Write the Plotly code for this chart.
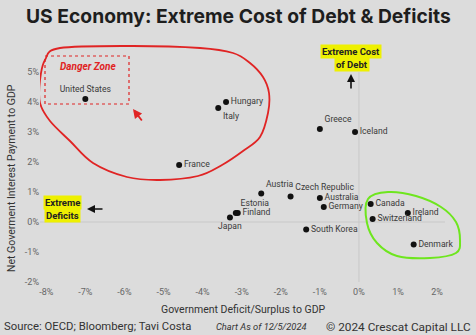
import plotly.graph_objects as go

# Country data: deficit/surplus and net interest payment, both as % of GDP
countries = ["United States", "Hungary", "Italy", "France", "Greece", "Iceland",
             "Austria", "Czech Republic", "Australia", "Germany", "Estonia", "Finland",
             "Japan", "South Korea", "Canada", "Switzerland", "Ireland", "Denmark"]
deficit_pct = [-7.0, -3.4, -3.6, -4.6, -1.0, -0.1,
               -2.5, -1.75, -1.0, -0.9, -3.15, -3.1,
               -3.3, -1.35, 0.3, 0.35, 1.25, 1.4]
interest_pct = [4.1, 4.0, 3.8, 1.9, 3.1, 3.0,
                0.95, 0.85, 0.8, 0.5, 0.3, 0.3,
                0.15, -0.25, 0.6, 0.1, 0.3, -0.75]
label_pos = ["top center", "middle right", "bottom right", "middle right", "top right", "middle right",
             "top right", "top right", "middle right", "middle right", "top right", "middle right",
             "bottom center", "middle right", "middle right", "middle right", "middle right", "middle right"]

x_ticks = [-8, -7, -6, -5, -4, -3, -2, -1, 0, 1, 2]
y_ticks = [-2, -1, 0, 1, 2, 3, 4, 5]

# Figure geometry
W, H = 476, 335
L, R, T, B = 40, 8, 42, 50
PW, PH = W - L - R, H - T - B
XR = [-8.16, 2.79]
YR = [-2.1, 6.0]

BG = "#dcdcdc"
RED = "#e02424"
GREEN = "#6ee61e"
YELLOW = "#eef000"


def dx(px):
    return XR[0] + (px - L) / PW * (XR[1] - XR[0])


def dy(py):
    return YR[0] + (T + PH - py) / PH * (YR[1] - YR[0])


def paper_x(px):
    return (px - L) / PW


def paper_y(py):
    return (T + PH - py) / PH


def smooth_loop(pts):
    """Closed Catmull-Rom curve through pixel points, as an SVG path in data units."""
    n = len(pts)
    path = f"M {dx(pts[0][0])},{dy(pts[0][1])}"
    for i in range(n):
        p0 = pts[(i - 1) % n]
        p1 = pts[i]
        p2 = pts[(i + 1) % n]
        p3 = pts[(i + 2) % n]
        c1 = (p1[0] + (p2[0] - p0[0]) / 6, p1[1] + (p2[1] - p0[1]) / 6)
        c2 = (p2[0] - (p3[0] - p1[0]) / 6, p2[1] - (p3[1] - p1[1]) / 6)
        path += (f" C {dx(c1[0])},{dy(c1[1])} {dx(c2[0])},{dy(c2[1])}"
                 f" {dx(p2[0])},{dy(p2[1])}")
    return path + " Z"


fig = go.Figure()
fig.add_trace(go.Scatter(
    x=deficit_pct, y=interest_pct, mode="markers+text",
    text=countries, textposition=label_pos,
    marker=dict(color="#111111", size=6),
    textfont=dict(family="Roboto", size=8.6, color="#3a3a3a"),
    cliponaxis=False, hoverinfo="skip", showlegend=False,
))

red_loop = [(45, 60), (60, 48), (133, 46), (200, 48), (233, 53), (250, 63), (263, 77),
            (269, 93), (268, 113), (260, 137), (243, 151), (222, 165), (198, 176),
            (160, 180), (127, 177), (93, 163), (70, 141), (50, 121), (40, 103), (40, 80)]
green_loop = [(368, 199), (388, 192), (416, 196), (441, 207), (456, 222), (460, 240),
              (456, 253), (430, 258), (397, 256), (377, 243), (367, 223)]

shapes = [
    # zero reference lines
    dict(type="line", xref="x", yref="y", x0=0, x1=0, y0=-2, y1=5,
         line=dict(color="#c8c8c8", width=1), layer="below"),
    dict(type="line", xref="x", yref="y", x0=-8.2, x1=2.2, y0=0, y1=0,
         line=dict(color="#c8c8c8", width=1), layer="below"),
    # hand-drawn highlight loops
    dict(type="path", xref="x", yref="y", path=smooth_loop(red_loop),
         line=dict(color=RED, width=1.8)),
    dict(type="path", xref="x", yref="y", path=smooth_loop(green_loop),
         line=dict(color=GREEN, width=2)),
    # danger zone box
    dict(type="rect", xref="x", yref="y", x0=dx(45), x1=dx(129), y0=dy(56), y1=dy(104),
         line=dict(color=RED, width=1.2, dash="dot")),
]

annotations = []


def note(px, py, text, size=10, color="#222222", family="Roboto", xanchor="center", **kw):
    annotations.append(dict(xref="paper", yref="paper", x=paper_x(px), y=paper_y(py),
                            xanchor=xanchor, yanchor="middle",
                            text=text, showarrow=False,
                            font=dict(family=family, size=size, color=color), **kw))


def arrow(x0, y0, x1, y1, color, width=1.6):
    annotations.append(dict(xref="paper", yref="paper", axref="pixel", ayref="pixel",
                            x=paper_x(x1), y=paper_y(y1), ax=x0 - x1, ay=y0 - y1,
                            text="", showarrow=True, arrowhead=2, arrowsize=1,
                            arrowwidth=width, arrowcolor=color))


note(238, 16, "<b>US Economy: Extreme Cost of Debt &amp; Deficits</b>", size=19.3,
     color="#1e1e1e", family="Inter")
note(88, 66, "<b><i>Danger Zone</i></b>", size=10, color=RED)
note(351, 51, "<b>Extreme Cost</b>", size=9.5, bgcolor=YELLOW, borderpad=1)
note(352, 64, "<b>of Debt</b>", size=9.5, bgcolor=YELLOW, borderpad=1)
note(62, 202, "<b>Extreme</b>", size=9.5, bgcolor=YELLOW, borderpad=1)
note(62, 215, "<b>Deficits</b>", size=9.5, bgcolor=YELLOW, borderpad=1)
arrow(351, 90, 351, 74, "#111111")
arrow(104, 209, 87, 209, "#111111")
arrow(143, 122, 133, 109, RED, width=1.8)

note(243, 309, "Government Deficit/Surplus to GDP", size=10.5, color="#333333")
note(11, 178, "Net Goverment Interest Payment to GDP", size=10.5, color="#333333",
     textangle=-90)
note(2, 327, "Source: OECD; Bloomberg; Tavi Costa", size=11.3, color="#333333",
     xanchor="left")
note(261, 327, "<i>Chart As of 12/5/2024</i>", size=9.3, color="#333333")
note(473, 327, "© 2024 Crescat Capital LLC", size=11.8, color="#333333",
     xanchor="right")

tick_font = dict(family="Roboto", size=9, color="#666666")
fig.update_layout(
    width=W, height=H, margin=dict(l=L, r=R, t=T, b=B),
    paper_bgcolor=BG, plot_bgcolor=BG,
    shapes=shapes, annotations=annotations,
    xaxis=dict(range=XR, tickvals=x_ticks, ticktext=[f"{v}%" for v in x_ticks],
               showgrid=False, zeroline=False, showline=False, ticks="",
               tickfont=tick_font, fixedrange=True),
    yaxis=dict(range=YR, tickvals=y_ticks, ticktext=[f"{v}%" for v in y_ticks],
               showgrid=False, zeroline=False, showline=False, ticks="",
               tickfont=tick_font, fixedrange=True),
)

fig.write_html("out.html", config={"displayModeBar": False})
